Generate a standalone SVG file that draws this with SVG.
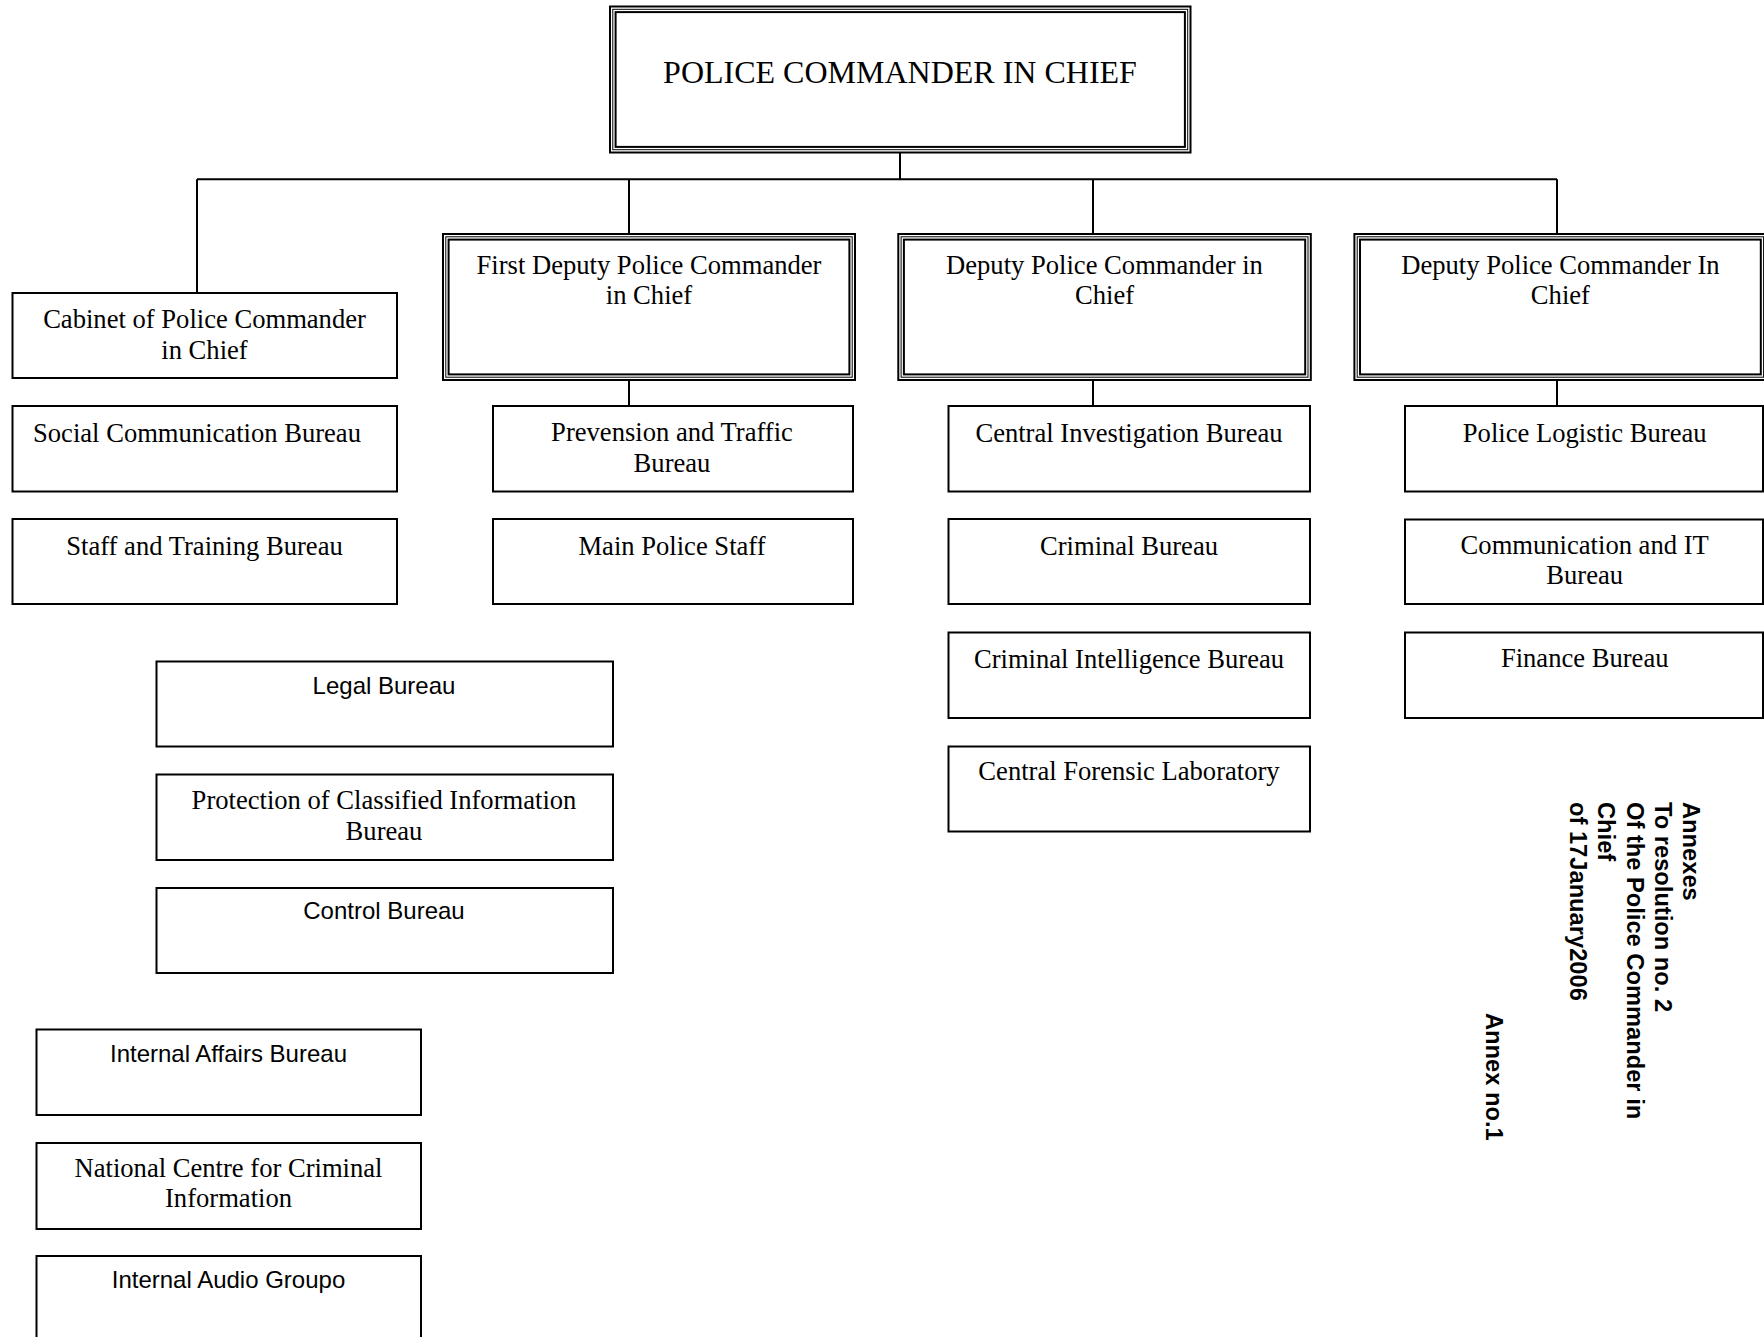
<svg xmlns="http://www.w3.org/2000/svg" width="1764" height="1337" viewBox="0 0 1764 1337">
<style>
.bg{fill:#fff}
.box{fill:#fff;stroke:#000;stroke-width:2}
.o{fill:none;stroke:#000;stroke-width:2}
.m{fill:none;stroke:#000;stroke-width:1}
.conn{fill:none;stroke:#000;stroke-width:2}
.t{font-family:"Liberation Serif","Times New Roman",serif;font-size:26.6px;text-anchor:middle;fill:#000}
.big{font-size:32px}
.s{font-family:"Liberation Sans",Arial,sans-serif;font-size:24px;text-anchor:middle;fill:#000}
.r{font-family:"Liberation Sans",Arial,sans-serif;font-size:23.7px;font-weight:bold;fill:#000}
</style>
<rect class="bg" x="0" y="0" width="1764" height="1337"/>

<g id="connectors">
<path class="conn" d="M900 152V179.3M197 179.3H1557M197 179.3V293M629 179.3V234M1093 179.3V234M1557 179.3V234M629 380V406M1093 380V406M1557 380V406"/>
</g>

<g id="commander">
<rect class="o" x="610" y="6.5" width="580.5" height="146"/>
<rect class="m" x="612.8" y="9.3" width="574.9" height="140.4"/>
<rect class="o" x="615.6" y="12.1" width="569.3" height="134.8"/>
<text class="t big" x="900" y="83">POLICE COMMANDER IN CHIEF</text>
</g>

<g id="first-deputy">
<rect class="o" x="443" y="234" width="412" height="146"/>
<rect class="m" x="445.8" y="236.8" width="406.4" height="140.4"/>
<rect class="o" x="448.6" y="239.6" width="400.8" height="134.8"/>
<text class="t" x="649" y="273.5">First Deputy Police Commander</text>
<text class="t" x="649" y="304">in Chief</text>
</g>

<g id="deputy-2">
<rect class="o" x="898.3" y="234" width="412.5" height="146"/>
<rect class="m" x="901.1" y="236.8" width="406.9" height="140.4"/>
<rect class="o" x="903.9" y="239.6" width="401.3" height="134.8"/>
<text class="t" x="1104.5" y="273.5">Deputy Police Commander in</text>
<text class="t" x="1104.5" y="304">Chief</text>
</g>

<g id="deputy-3">
<rect class="o" x="1354.4" y="234" width="412" height="146"/>
<rect class="m" x="1357.2" y="236.8" width="406.4" height="140.4"/>
<rect class="o" x="1360" y="239.6" width="400.8" height="134.8"/>
<text class="t" x="1560.4" y="273.5">Deputy Police Commander In</text>
<text class="t" x="1560.4" y="304">Chief</text>
</g>

<g id="cabinet">
<rect class="box" x="12.5" y="293" width="384.5" height="85"/>
<text class="t" x="204.5" y="328.3">Cabinet of Police Commander</text>
<text class="t" x="204.5" y="358.5">in Chief</text>
</g>
<g id="social">
<rect class="box" x="12.5" y="406" width="384.5" height="85.5"/>
<text class="t" x="197" y="441.7">Social Communication Bureau</text>
</g>
<g id="staff-training">
<rect class="box" x="12.5" y="519" width="384.5" height="85"/>
<text class="t" x="204.5" y="555">Staff and Training Bureau</text>
</g>

<g id="prevension">
<rect class="box" x="493" y="406" width="360" height="85.5"/>
<text class="t" x="672" y="441">Prevension and Traffic</text>
<text class="t" x="672" y="471.5">Bureau</text>
</g>
<g id="main-staff">
<rect class="box" x="493" y="519" width="360" height="85"/>
<text class="t" x="672" y="554.5">Main Police Staff</text>
</g>

<g id="central-investigation">
<rect class="box" x="948.5" y="406" width="361.5" height="85.5"/>
<text class="t" x="1129" y="441.7">Central Investigation Bureau</text>
</g>
<g id="criminal">
<rect class="box" x="948.5" y="519" width="361.5" height="85"/>
<text class="t" x="1129" y="555">Criminal Bureau</text>
</g>
<g id="criminal-intelligence">
<rect class="box" x="948.5" y="632.5" width="361.5" height="85.5"/>
<text class="t" x="1129" y="667.7">Criminal Intelligence Bureau</text>
</g>
<g id="forensic">
<rect class="box" x="948.5" y="746.5" width="361.5" height="85"/>
<text class="t" x="1129" y="780">Central Forensic Laboratory</text>
</g>

<g id="logistic">
<rect class="box" x="1405" y="406" width="358" height="85.5"/>
<text class="t" x="1584.7" y="441.7">Police Logistic Bureau</text>
</g>
<g id="communication-it">
<rect class="box" x="1405" y="519.5" width="358" height="84.5"/>
<text class="t" x="1584.7" y="553.5">Communication and IT</text>
<text class="t" x="1584.7" y="584">Bureau</text>
</g>
<g id="finance">
<rect class="box" x="1405" y="632.5" width="358" height="85.5"/>
<text class="t" x="1584.7" y="667">Finance Bureau</text>
</g>

<g id="legal">
<rect class="box" x="156.5" y="661.5" width="456.5" height="85"/>
<text class="s" x="384" y="694">Legal Bureau</text>
</g>
<g id="protection">
<rect class="box" x="156.5" y="774.5" width="456.5" height="85.5"/>
<text class="t" x="384" y="808.5">Protection of Classified Information</text>
<text class="t" x="384" y="839.5">Bureau</text>
</g>
<g id="control">
<rect class="box" x="156.5" y="888" width="456.5" height="85"/>
<text class="s" x="384" y="919.3">Control Bureau</text>
</g>

<g id="internal-affairs">
<rect class="box" x="36.5" y="1029.5" width="384.5" height="85.5"/>
<text class="s" x="228.5" y="1061.7">Internal Affairs Bureau</text>
</g>
<g id="national-centre">
<rect class="box" x="36.5" y="1143" width="384.5" height="86"/>
<text class="t" x="228.5" y="1176.7">National Centre for Criminal</text>
<text class="t" x="228.5" y="1206.7">Information</text>
</g>
<g id="internal-audio">
<rect class="box" x="36.5" y="1256" width="384.5" height="100"/>
<text class="s" x="228.5" y="1288.3">Internal Audio Groupo</text>
</g>

<g id="annexes-note">
<text class="r" transform="translate(1683.3 802) rotate(90)">
<tspan x="0" y="0">Annexes</tspan>
<tspan x="0" dy="28.4">To resolution no. 2</tspan>
<tspan x="0" dy="28.4">Of the Police Commander in</tspan>
<tspan x="0" dy="28.4">Chief</tspan>
<tspan x="0" dy="28.4">of 17January2006</tspan>
</text>
</g>
<g id="annex-no">
<text class="r" transform="translate(1486 1013) rotate(90)">Annex no.1</text>
</g>
</svg>
